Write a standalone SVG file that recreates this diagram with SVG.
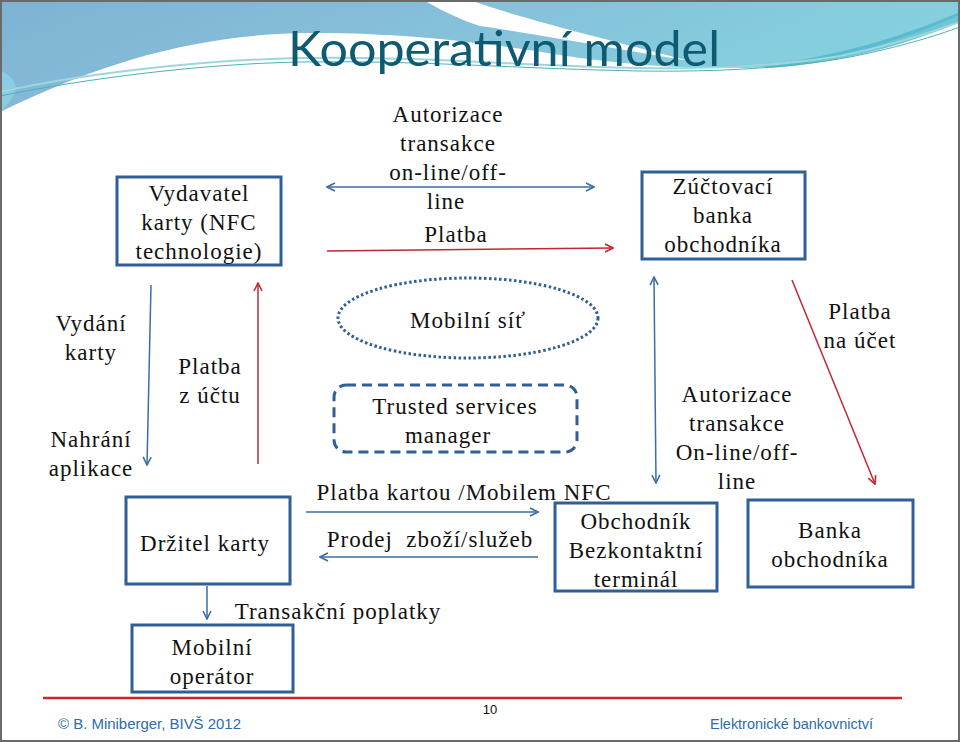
<svg xmlns="http://www.w3.org/2000/svg" width="960" height="742" viewBox="0 0 960 742">
<defs>
  <linearGradient id="gBlue" x1="0" y1="0" x2="1" y2="0.3">
    <stop offset="0" stop-color="#7fb2d3"/>
    <stop offset="0.45" stop-color="#86bfd9"/>
    <stop offset="1" stop-color="#84d2df"/>
  </linearGradient>
  <marker id="mb" viewBox="0 0 10 10" refX="9" refY="5" markerWidth="10" markerHeight="10" markerUnits="userSpaceOnUse" orient="auto-start-reverse">
    <path d="M1,1 L9,5 L1,9" fill="none" stroke="#3a6ea5" stroke-width="1.6"/>
  </marker>
  <marker id="mr" viewBox="0 0 10 10" refX="9" refY="5" markerWidth="10" markerHeight="10" markerUnits="userSpaceOnUse" orient="auto-start-reverse">
    <path d="M1,1 L9,5 L1,9" fill="none" stroke="#c0282f" stroke-width="1.6"/>
  </marker>
</defs>
<style>
  .t { font-size: 23px; fill: #111; letter-spacing: 1px; text-anchor: middle; }
  .box { fill: #ffffff; stroke: #2f5f95; stroke-width: 3; }
  .ab { stroke: #3a6ea5; stroke-width: 1.5; fill: none; }
  .ar { stroke: #c0282f; stroke-width: 1.5; fill: none; }
  .foot { font-size: 15px; fill: #2a6cb0; }
</style>

<!-- background / slide template -->
<rect x="0" y="0" width="960" height="742" fill="#ffffff"/>
<path d="M0,0 H960 V15 C920,32 870,52 800,64 C740,72 640,68 560,55 C480,42 400,32 300,33 C200,36 110,58 0,112 Z" fill="url(#gBlue)"/>
<path d="M0,70 C30,86 10,100 0,112 Z" fill="#8fdbe6" opacity="0.6"/>
<path d="M423,0 H470 C510,15 600,38 690,61 C600,46 530,33 480,26 C455,18 438,8 423,0 Z" fill="#ffffff"/>
<path d="M760,66 C830,58 900,38 960,12 V22 C900,48 830,64 770,68 Z" fill="#4db6cb" opacity="0.8"/>
<path d="M0,92 C80,74 200,60 300,58 C420,56 520,66 640,68 C720,69 780,66 840,56 C890,46 930,33 960,22" fill="none" stroke="#9fd6dc" stroke-width="2"/>
<path d="M0,96 C90,78 200,64 300,62 C420,60 520,69 640,71 C720,72 790,68 850,57 C900,47 935,36 960,27" fill="none" stroke="#4fb0b8" stroke-width="1"/>
<rect x="1" y="1" width="958" height="740" fill="none" stroke="#6a6a6a" stroke-width="2"/>

<text x="504" y="66" font-family="Lato, 'Open Sans', sans-serif" font-size="48" fill="#0e5a72" text-anchor="middle" textLength="432" lengthAdjust="spacingAndGlyphs">Kooperativní model</text>

<!-- connectors -->
<g id="connectors">
  <line class="ab" x1="327" y1="187" x2="594" y2="187" marker-start="url(#mb)" marker-end="url(#mb)"/>
  <line class="ar" x1="327" y1="251" x2="613" y2="248" marker-end="url(#mr)"/>
  <line class="ab" x1="151" y1="285" x2="147" y2="465" marker-end="url(#mb)"/>
  <line class="ar" x1="258" y1="464" x2="258" y2="283" marker-end="url(#mr)"/>
  <line class="ab" x1="654" y1="277" x2="656" y2="483" marker-start="url(#mb)" marker-end="url(#mb)"/>
  <line class="ar" x1="792" y1="280" x2="875" y2="484" marker-end="url(#mr)"/>
  <line class="ab" x1="306" y1="512" x2="538" y2="512" marker-end="url(#mb)"/>
  <line class="ab" x1="538" y1="557" x2="320" y2="557" marker-end="url(#mb)"/>
  <line class="ab" x1="207" y1="586" x2="207" y2="619" marker-end="url(#mb)"/>
</g>

<g font-family="Liberation Serif, Times New Roman, serif">
<!-- connector labels -->
<g id="labels">
  <text class="t" x="448" y="122">Autorizace</text>
  <text class="t" x="448" y="151">transakce</text>
  <text class="t" x="448" y="180">on-line/off-</text>
  <text class="t" x="446" y="209">line</text>
  <text class="t" x="456" y="242">Platba</text>
  <text class="t" x="91" y="331">Vydání</text>
  <text class="t" x="91" y="360">karty</text>
  <text class="t" x="91" y="447">Nahrání</text>
  <text class="t" x="91" y="476">aplikace</text>
  <text class="t" x="210" y="374">Platba</text>
  <text class="t" x="210" y="403">z účtu</text>
  <text class="t" x="737" y="402">Autorizace</text>
  <text class="t" x="737" y="431">transakce</text>
  <text class="t" x="737" y="460">On-line/off-</text>
  <text class="t" x="737" y="489">line</text>
  <text class="t" x="860" y="319">Platba</text>
  <text class="t" x="860" y="348">na účet</text>
  <text class="t" x="464" y="500">Platba kartou /Mobilem NFC</text>
  <text class="t" x="430" y="547" xml:space="preserve">Prodej  zboží/služeb</text>
  <text class="t" x="338" y="619">Transakční poplatky</text>
</g>

<g id="vydavatel">
  <rect class="box" x="117" y="177" width="164" height="88"/>
  <text class="t" x="199" y="201">Vydavatel</text>
  <text class="t" x="199" y="230">karty (NFC</text>
  <text class="t" x="199" y="259">technologie)</text>
</g>

<g id="zuctovaci">
  <rect class="box" x="642" y="172" width="163" height="87"/>
  <text class="t" x="723" y="194">Zúčtovací</text>
  <text class="t" x="723" y="223">banka</text>
  <text class="t" x="723" y="252">obchodníka</text>
</g>

<g id="mobilni-sit">
  <ellipse cx="468" cy="318" rx="130" ry="40" fill="none" stroke="#2f5f95" stroke-width="3" stroke-dasharray="2.5 2.5"/>
  <text class="t" x="468" y="328">Mobilní síť</text>
</g>

<g id="tsm">
  <rect x="334" y="385" width="243" height="67" rx="12" fill="none" stroke="#2f5f95" stroke-width="3" stroke-dasharray="10 6"/>
  <text class="t" x="455" y="414">Trusted services</text>
  <text class="t" x="448" y="443">manager</text>
</g>

<g id="drzitel">
  <rect class="box" x="126" y="497" width="164" height="87"/>
  <text class="t" x="205" y="551">Držitel karty</text>
</g>

<g id="obchodnik">
  <rect class="box" x="555" y="503" width="162" height="88"/>
  <text class="t" x="636" y="529">Obchodník</text>
  <text class="t" x="636" y="558">Bezkontaktní</text>
  <text class="t" x="636" y="587">terminál</text>
</g>

<g id="banka">
  <rect class="box" x="748" y="500" width="165" height="87"/>
  <text class="t" x="830" y="538">Banka</text>
  <text class="t" x="830" y="567">obchodníka</text>
</g>

<g id="operator">
  <rect class="box" x="132" y="625" width="161" height="67"/>
  <text class="t" x="212" y="655">Mobilní</text>
  <text class="t" x="212" y="684">operátor</text>
</g>
</g>

<!-- footer -->
<line x1="43" y1="698" x2="902" y2="698" stroke="#d0262b" stroke-width="2.5"/>
<g font-family="Liberation Sans, Arial, sans-serif">
<text x="490" y="714" font-size="13" fill="#111" text-anchor="middle">10</text>
<text class="foot" x="58" y="729" textLength="183" lengthAdjust="spacingAndGlyphs">© B. Miniberger, BIVŠ  2012</text>
<text class="foot" x="710" y="729" textLength="163" lengthAdjust="spacingAndGlyphs">Elektronické bankovnictví</text>
</g>
</svg>
